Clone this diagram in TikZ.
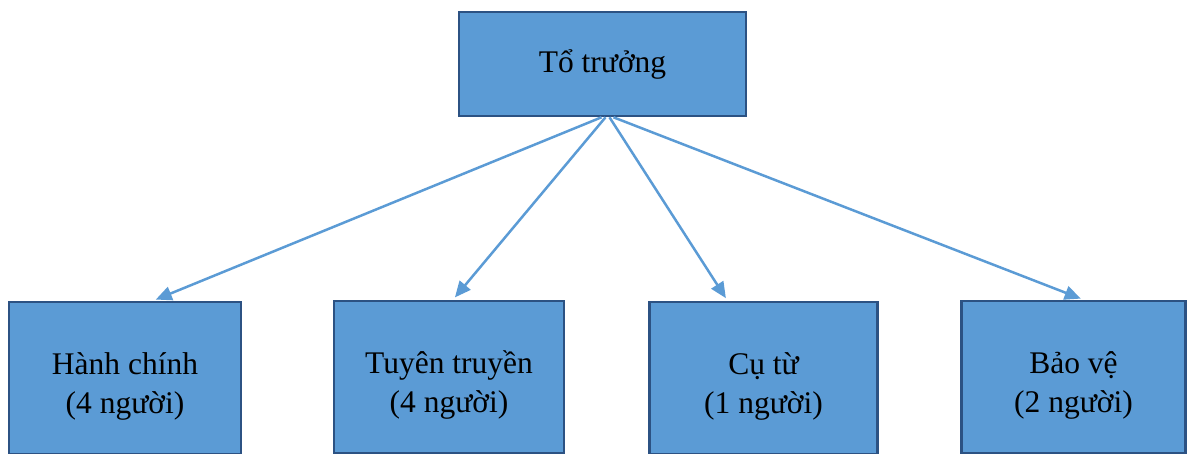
\documentclass[tikz,border=0pt]{standalone}
\usepackage{fontspec}
\setmainfont{Liberation Serif}
\usetikzlibrary{positioning,arrows.meta,calc}
\definecolor{boxfill}{HTML}{5B9BD5}
\definecolor{boxline}{HTML}{2C5283}
\tikzset{
  unit/.style={draw=boxline, fill=boxfill, line width=2.6pt, inner sep=0pt},
  lead/.style={unit, minimum width=287pt, minimum height=104pt, font=\fontsize{31.5}{39}\selectfont},
  team/.style={unit, minimum height=152pt},
  txt/.style={align=center, inner sep=0pt, font=\fontsize{31.5}{39}\selectfont},
  fl/.style={-{Triangle[length=16pt,width=14pt]}, boxfill, line width=2.5pt, shorten >=3pt},
}
\begin{document}
\begin{tikzpicture}[x=1pt, y=-1pt]
\useasboundingbox (0,0) rectangle (1188,454);
%% ---- the head of the group
\node[lead] (tt) at (602.5,64) {Tổ trưởng};

%% ---- the four teams, cut by the lower edge
\node[team, minimum width=232pt] (hc) at (125,378) {};
\node[team, minimum width=230pt] (tr) at (449,377) {};
\node[team, minimum width=228pt] (ct) at (763.5,378) {};
\node[team, minimum width=224pt] (bv) at (1073.5,377) {};

%% ---- their labels sit a little low in the boxes
\node[txt] (hct) at ([yshift=-8pt]hc.center) {Hành chính\\(4 người)};
\node[txt] (trt) at ([yshift=-8pt]tr.center) {Tuyên truyền\\(4 người)};
\node[txt] (ctt) at ([yshift=-8pt]ct.center) {Cụ từ\\(1 người)};
\node[txt] (bvt) at ([yshift=-8pt]bv.center) {Bảo vệ\\ (2 người)};

\draw[fl] ([xshift=-1pt]tt.south) -- ([xshift=28pt]hc.north);
\draw[fl] ([xshift=3pt]tt.south) -- ([xshift=4pt]tr.north);
\draw[fl] ([xshift=7pt]tt.south) -- ([xshift=-36pt]ct.north);
\draw[fl] ([xshift=11pt]tt.south) -- ([xshift=10pt]bv.north);
\end{tikzpicture}
\end{document}
